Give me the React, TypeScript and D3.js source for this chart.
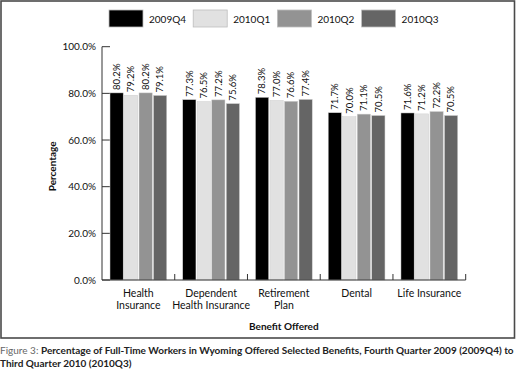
import React from "react";
import * as d3 from "d3";

// data
const categories = ["Health Insurance", "Dependent Health Insurance", "Retirement Plan", "Dental", "Life Insurance"];
const categoryLines = [["Health", "Insurance"], ["Dependent", "Health Insurance"], ["Retirement", "Plan"], ["Dental"], ["Life Insurance"]];
const seriesNames = ["2009Q4", "2010Q1", "2010Q2", "2010Q3"];
const q2009Q4 = [80.2, 77.3, 78.3, 71.7, 71.6];
const q2010Q1 = [79.2, 76.5, 77.0, 70.0, 71.2];
const q2010Q2 = [80.2, 77.2, 76.6, 71.1, 72.2];
const q2010Q3 = [79.1, 75.6, 77.4, 70.5, 70.5];
const yTicks = [0, 20, 40, 60, 80, 100];
const seriesColors = ["#000000", "#e1e1e1", "#939393", "#656565"];

const FONT = "Lato, 'Open Sans', sans-serif";
const W = 516, H = 371;

export default function App() {
  const series = [q2009Q4, q2010Q1, q2010Q2, q2010Q3];

  const x0 = d3.scaleBand<string>().domain(categories).range([102, 465.7]).padding(0);
  const groupPad = 8;
  const x1 = d3.scaleBand<string>().domain(seriesNames)
    .range([groupPad, x0.bandwidth() - groupPad])
    .paddingInner(0.09).paddingOuter(0);
  const y = d3.scaleLinear().domain([0, 100]).range([280, 46.7]);

  const fmt = (v: number) => v.toFixed(1) + "%";
  const [plotL, plotR] = x0.range();

  return (
    <svg width={W} height={H} style={{ position: "absolute", left: 0, top: 0 }} fontFamily={FONT}>
      <rect width={W} height={H} fill="#fff" />
      {/* frame */}
      <rect x={1} y={1} width={W - 2.5} height={337} fill="none" stroke="#4a4a4a" strokeWidth={1.6} />

      {/* legend */}
      {seriesNames.map((s, i) => {
        const lx = 109 + i * 84.2;
        return (
          <g key={s}>
            <rect x={lx} y={10} width={34} height={17} fill={seriesColors[i]} stroke="#bdbdbd" strokeWidth={0.8} />
            <text x={lx + 40} y={22.5} fontSize={10} fill="#111">{s}</text>
          </g>
        );
      })}

      {/* y axis */}
      <line x1={plotL} x2={plotL} y1={y(100)} y2={y(0)} stroke="#333" strokeWidth={1} />
      {yTicks.map(t => (
        <g key={t}>
          <line x1={plotL} x2={plotL + 8} y1={y(t)} y2={y(t)} stroke="#333" strokeWidth={1} />
          <text x={96} y={y(t)} dy="0.35em" textAnchor="end" fontSize={10} fill="#111">{t.toFixed(1) + "%"}</text>
        </g>
      ))}
      <text transform={`translate(56,${(y(0) + y(100)) / 2 + 3}) rotate(-90)`} textAnchor="middle" fontSize={10} fontWeight="bold" fill="#111">Percentage</text>

      {/* bars */}
      {categories.map((c, ci) => (
        <g key={c} transform={`translate(${x0(c)},0)`}>
          {seriesNames.map((s, si) => {
            const v = series[si][ci];
            const bx = x1(s)!;
            return (
              <g key={s}>
                <rect x={bx} y={y(v)} width={x1.bandwidth()} height={y(0) - y(v)} fill={seriesColors[si]} stroke="#cfcfcf" strokeWidth={0.5} />
                <text transform={`translate(${bx + x1.bandwidth() / 2},${y(v) - 3}) rotate(-90)`} dy="0.35em" fontSize={9.5} fill="#111">{fmt(v)}</text>
              </g>
            );
          })}
        </g>
      ))}

      {/* x axis */}
      <line x1={plotL} x2={plotR} y1={y(0)} y2={y(0)} stroke="#333" strokeWidth={1} />
      {categories.map(c => (
        <line key={c} x1={x0(c)! + x0.bandwidth()} x2={x0(c)! + x0.bandwidth()} y1={y(0)} y2={y(0) - 6} stroke="#333" strokeWidth={1} />
      ))}
      {categories.map((c, ci) => (
        <text key={c} x={x0(c)! + x0.bandwidth() / 2} y={297} textAnchor="middle" fontSize={10.5} fill="#111">
          {categoryLines[ci].map((ln, li) => (
            <tspan key={li} x={x0(c)! + x0.bandwidth() / 2} dy={li === 0 ? 0 : 11.5}>{ln}</tspan>
          ))}
        </text>
      ))}
      <text x={(plotL + plotR) / 2} y={330} textAnchor="middle" fontSize={10} fontWeight="bold" fill="#111">Benefit Offered</text>

      {/* caption */}
      <text x={0} y={354} fontSize={10} fill="#222">
        <tspan fill="#666" fontWeight="normal">Figure 3:  </tspan>
        <tspan fontWeight="bold">Percentage of Full-Time Workers in Wyoming Offered Selected Benefits, Fourth Quarter 2009 (2009Q4) to</tspan>
      </text>
      <text x={0} y={366.5} fontSize={10} fontWeight="bold" fill="#222">Third Quarter 2010 (2010Q3)</text>
    </svg>
  );
}
